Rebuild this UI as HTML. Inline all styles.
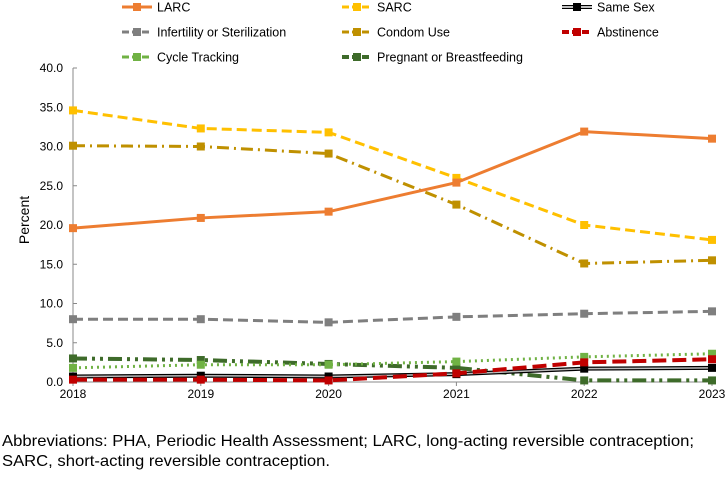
<!DOCTYPE html>
<html><head><meta charset="utf-8"><style>
body{margin:0;background:#fff;font-family:"Liberation Sans",Arial,sans-serif;}
svg text{font-family:"Liberation Sans",Arial,sans-serif;}
</style></head><body>
<svg id="c" width="728" height="474" xmlns="http://www.w3.org/2000/svg">
<g id="legend"></g>
<g id="axes"></g>
<g id="series"></g>
<text x="2" y="446" font-size="16" textLength="692" lengthAdjust="spacingAndGlyphs" fill="#000">Abbreviations: PHA, Periodic Health Assessment; LARC, long-acting reversible contraception;</text>
<text x="2" y="466" font-size="16" textLength="328" lengthAdjust="spacingAndGlyphs" fill="#000">SARC, short-acting reversible contraception.</text>
</svg>
<script>
const years=["2018","2019","2020","2021","2022","2023"];
const yTicks=[0,5,10,15,20,25,30,35,40];
const larc=[19.6,20.9,21.7,25.4,31.9,31.0];
const sarc=[34.6,32.3,31.8,26.0,20.0,18.1];
const sameSex=[0.7,0.8,0.7,1.0,1.7,1.8];
const infertility=[8.0,8.0,7.6,8.3,8.7,9.0];
const condom=[30.1,30.0,29.1,22.6,15.1,15.5];
const abstinence=[0.3,0.3,0.2,1.1,2.5,2.9];
const cycle=[1.8,2.2,2.2,2.6,3.2,3.6];
const pregnant=[3.0,2.8,2.3,1.8,0.2,0.2];
const NS="http://www.w3.org/2000/svg";
const X0=73,X1=712,Y0=382,Y1=68;
const x=i=>X0+i*(X1-X0)/(years.length-1);
const y=v=>Y0-v*(Y0-Y1)/40;
function mk(t,a,p){const e=document.createElementNS(NS,t);for(const k in a)e.setAttribute(k,a[k]);p.appendChild(e);return e;}
const axes=document.getElementById('axes');
let ya=mk('line',{x1:X0,y1:Y1,x2:X0,y2:Y0,stroke:'#888'},axes);

let xa=mk('line',{x1:X0,y1:Y0,x2:X1,y2:Y0,stroke:'#888'},axes);

yTicks.forEach(v=>{
 mk('line',{x1:X0,y1:y(v),x2:X0+4,y2:y(v),stroke:'#888'},axes);
 const t=mk('text',{x:X0-10,y:y(v)+4,'text-anchor':'end','font-size':12},axes);t.textContent=v.toFixed(1);
 
});
years.forEach((yr,i)=>{
 mk('line',{x1:x(i),y1:Y0,x2:x(i),y2:Y0+4,stroke:'#888'},axes);
 const t=mk('text',{x:x(i),y:398,'text-anchor':'middle','font-size':12},axes);t.textContent=yr;
 
});
const yt=mk('text',{x:29,y:220,'text-anchor':'middle','font-size':14,transform:'rotate(-90 29 220)'},axes);yt.textContent='Percent';

const S=[
 {n:'Pregnant or Breastfeeding',d:pregnant,c:'#3e6b2a',w:4,da:'14 5 3 5 3 5',lx:342,ly:57},
 {n:'Cycle Tracking',d:cycle,c:'#70b244',w:3,da:'2 4',lx:122,ly:57},
 {n:'Infertility or Sterilization',d:infertility,c:'#7f7f7f',w:3,da:'10 5',lx:122,ly:32},
 {n:'Same Sex',d:sameSex,c:'#000',w:4,da:'',inner:'#bbb',lx:562,ly:7},
 {n:'Abstinence',d:abstinence,c:'#c00000',w:4,da:'14 6',lx:562,ly:32},
 {n:'Condom Use',d:condom,c:'#bf9000',w:3,da:'12 5 2 5',lx:342,ly:32},
 {n:'SARC',d:sarc,c:'#ffc000',w:3,da:'10 5',lx:342,ly:7},
 {n:'LARC',d:larc,c:'#ed7d31',w:3,da:'',lx:122,ly:7}
];
const sg=document.getElementById('series'),lg=document.getElementById('legend');
S.forEach(s=>{
 const g=mk('g',{},sg);
 
 
 const pts=s.d.map((v,i)=>x(i)+','+y(v)).join(' ');
 mk('polyline',{points:pts,fill:'none',stroke:s.c,'stroke-width':s.w,'stroke-dasharray':s.da},g);
 if(s.inner)mk('polyline',{points:pts,fill:'none',stroke:s.inner,'stroke-width':1.5},g);
 s.d.forEach((v,i)=>{
  const r=mk('rect',{x:x(i)-4,y:y(v)-4,width:8,height:8,fill:s.c},g);
  
 });
 const le=mk('g',{},lg);
 
 
 mk('line',{x1:s.lx,y1:s.ly,x2:s.lx+30,y2:s.ly,stroke:s.c,'stroke-width':s.w,'stroke-dasharray':s.da?'7 3':''},le);
 if(s.inner)mk('line',{x1:s.lx,y1:s.ly,x2:s.lx+30,y2:s.ly,stroke:'#fff','stroke-width':1.5},le);
 mk('rect',{x:s.lx+11,y:s.ly-4,width:8,height:8,fill:s.c},le);
 const t=mk('text',{x:s.lx+35,y:s.ly+4.5,'font-size':12.5},le);t.textContent=s.n;
});
</script>
</body></html>
